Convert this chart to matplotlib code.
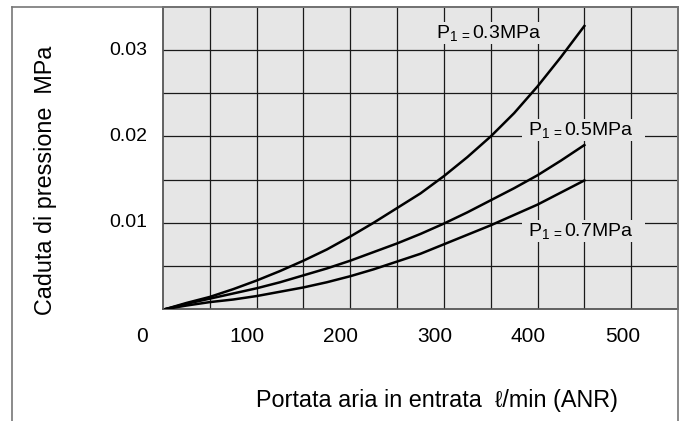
import matplotlib
matplotlib.use("Agg")
import matplotlib.pyplot as plt
from matplotlib.lines import Line2D
import matplotlib.transforms as mtransforms

plt.rcParams['font.family'] = ['Liberation Sans', 'DejaVu Sans']
plt.rcParams['mathtext.fontset'] = 'custom'
plt.rcParams['mathtext.rm'] = 'Liberation Sans'
plt.rcParams['mathtext.it'] = 'Liberation Sans'

# ---- data ----
flow = [3, 25, 50, 75, 100, 125, 150, 175, 200, 225, 250, 275, 300, 325, 350, 375, 400, 425, 450]
p03 = [0.0, 0.0007, 0.0014, 0.0023, 0.0033, 0.0044, 0.0056, 0.0069, 0.0084, 0.0100,
       0.0117, 0.0134, 0.0154, 0.0176, 0.0200, 0.0227, 0.0258, 0.0292, 0.0328]
p05 = [0.0, 0.0006, 0.0012, 0.0018, 0.0024, 0.0031, 0.0039, 0.0047, 0.0056, 0.0066,
       0.0076, 0.0087, 0.0099, 0.0112, 0.0126, 0.0140, 0.0155, 0.0172, 0.0190]
p07 = [0.0, 0.0004, 0.0008, 0.0011, 0.0015, 0.0020, 0.0025, 0.0031, 0.0038, 0.0046,
       0.0055, 0.0064, 0.0075, 0.0086, 0.0097, 0.0109, 0.0121, 0.0135, 0.0149]
series_labels = [r"P$_{1\,=}$0.3MPa", r"P$_{1\,=}$0.5MPa", r"P$_{1\,=}$0.7MPa"]
xtick_values = [0, 100, 200, 300, 400, 500]
xtick_labels = ["0", "100", "200", "300", "400", "500"]
ytick_values = [0.01, 0.02, 0.03]
ytick_labels = ["0.01", "0.02", "0.03"]
xlabel = "Portata aria in entrata  \u2113/min (ANR)"
ylabel = "Caduta di pressione  MPa"

W, H = 685, 421
fig = plt.figure(figsize=(W / 100, H / 100), dpi=100)
ax = fig.add_axes([163 / W, 1 - 309 / H, (678 - 163) / W, (309 - 7) / H])
ax.set_facecolor('#e6e6e6')
ax.set_xlim(0, 550)
ax.set_ylim(0, 0.035)

# grid
for gx in range(50, 550, 50):
    ax.axvline(gx, color='#1a1a1a', lw=0.9, zorder=1)
for k in range(1, 7):
    ax.axhline(0.005 * k, color='#1a1a1a', lw=0.9, zorder=1)

for s in ax.spines.values():
    s.set_color('#555555')
    s.set_linewidth(1.3)
ax.tick_params(length=0)
ax.set_xticks([])
ax.set_yticks([])

for ys in (p03, p05, p07):
    ax.plot(flow, ys, color='black', lw=1.8, zorder=3, solid_joinstyle='round')

# curve labels (left x, baseline y in pixels)
label_pos = [(431, 37.7), (523, 135), (523, 235.7)]
for (px, py), lab in zip(label_pos, series_labels):
    fig.text(px / W, 1 - py / H, " " + lab + "   ", ha='left', va='baseline',
             fontsize=14, zorder=4,
             bbox=dict(boxstyle='square,pad=0.05', facecolor='#e6e6e6', edgecolor='none'))

# x tick labels (slightly shifted left as in the reference)
x_off_px = [-21, -10, -10, -9, -9, -8]
xt_tr = mtransforms.blended_transform_factory(ax.transData, fig.transFigure)
for v, lab, off in zip(xtick_values, xtick_labels, x_off_px):
    ax.text(v, 1 - 336 / H, lab,
            transform=xt_tr + mtransforms.Affine2D().translate(off, 0),
            ha='center', va='center', fontsize=15, clip_on=False)

# y tick labels
yt_tr = mtransforms.blended_transform_factory(fig.transFigure, ax.transData)
for v, lab in zip(ytick_values, ytick_labels):
    ax.text(147 / W, v, lab, transform=yt_tr,
            ha='right', va='center', fontsize=14, clip_on=False)

fig.text(437 / W, 1 - 407 / H, xlabel, ha='center', va='baseline', fontsize=16.8)
fig.text(46 / W, 1 - 180 / H, ylabel, ha='center', va='center', rotation=90, fontsize=16.8)

# outer frame
fc = '#777777'
fig.add_artist(Line2D([12 / W, 12 / W], [0, 1 - 7 / H], transform=fig.transFigure, color=fc, lw=1.2))
fig.add_artist(Line2D([12 / W, 678 / W], [1 - 7 / H, 1 - 7 / H], transform=fig.transFigure, color=fc, lw=1.2))
fig.add_artist(Line2D([678 / W, 678 / W], [0, 1 - 7 / H], transform=fig.transFigure, color=fc, lw=1.2))

fig.savefig('out.png', dpi=100)
